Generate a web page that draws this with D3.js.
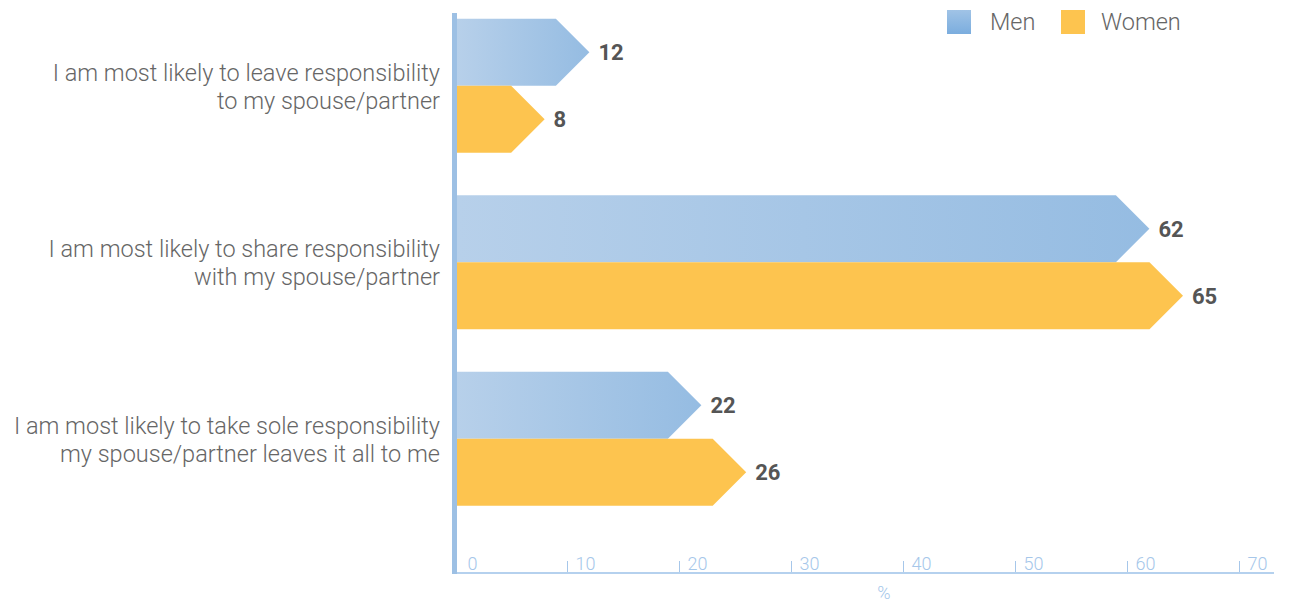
<!DOCTYPE html>
<html><head><meta charset="utf-8">
<script src="https://cdn.jsdelivr.net/npm/d3@7"></script>
<style>
html,body{margin:0;padding:0;background:#fff;}
svg{display:block;font-family:"Roboto","Liberation Sans",sans-serif;}
</style></head>
<body><svg id="c" width="1291" height="603"></svg>
<script>
const categories = [
  ["I am most likely to leave responsibility","to my spouse/partner"],
  ["I am most likely to share responsibility","with my spouse/partner"],
  ["I am most likely to take sole responsibility","my spouse/partner leaves it all to me"]
];
const series = ["Men","Women"];
const menValues = [12, 62, 22];
const womenValues = [8, 65, 26];
const tickValues = [0,10,20,30,40,50,60,70];
const axisTitle = "%";

const svg = d3.select("#c");
const defs = svg.append("defs");
const g1 = defs.append("linearGradient").attr("id","menGrad").attr("x1","0").attr("x2","1").attr("y1","0").attr("y2","0");
g1.append("stop").attr("offset","0").attr("stop-color","#b7d0ea");
g1.append("stop").attr("offset","1").attr("stop-color","#95bce2");
const g2 = defs.append("linearGradient").attr("id","menLeg").attr("x1","0").attr("x2","0").attr("y1","0").attr("y2","1");
g2.append("stop").attr("offset","0").attr("stop-color","#a0c3e6");
g2.append("stop").attr("offset","1").attr("stop-color","#7badde");

const colors = {Men:"url(#menGrad)", Women:"#fdc44f"};

const x = d3.scaleLinear().domain([0,70]).range([455,1239]);
const keys = categories.map((c,i)=>i);
const y = d3.scaleBand().domain(keys).range([-2.5,527]);
const barH = 67;
const y1 = d3.scaleBand().domain(series).range([y.bandwidth()/2 - barH, y.bandwidth()/2 + barH]);

const data = [];
keys.forEach(i=>{
  data.push({cat:i, s:"Men", v:menValues[i]});
  data.push({cat:i, s:"Women", v:womenValues[i]});
});

const x0 = 457;
function arrowPath(d){
  const top = y(d.cat) + y1(d.s);
  const h = y1.bandwidth();
  const tip = x(d.v);
  const corner = tip - h/2;
  return `M${x0},${top}L${corner},${top}L${tip},${top+h/2}L${corner},${top+h}L${x0},${top+h}Z`;
}

svg.append("g").selectAll("path").data(data).join("path")
  .attr("d", arrowPath)
  .attr("fill", d=>colors[d.s]);

svg.append("g").selectAll("text").data(data).join("text")
  .attr("x", d=>x(d.v)+9)
  .attr("y", d=>y(d.cat)+y1(d.s)+y1.bandwidth()/2)
  .attr("dy","0.36em")
  .attr("font-size",22).attr("font-weight","bold").attr("fill","#555555")
  .text(d=>d.v);

// category labels
const lab = svg.append("g").selectAll("text").data(keys).join("text")
  .attr("x",440)
  .attr("y", i=>y(i)+y.bandwidth()/2 - 5)
  .attr("text-anchor","end")
  .attr("font-size",23.5).attr("font-weight",300).attr("fill","#666666");
lab.each(function(i){
  const t = d3.select(this);
  categories[i].forEach((line,k)=>{
    t.append("tspan").attr("x",440).attr("dy", k===0 ? 0 : 28).text(line);
  });
});

// bottom axis
const axis = d3.axisBottom(x).tickValues(tickValues).tickSize(0).tickFormat(d3.format("d"));
const ax = svg.append("g").attr("transform","translate(0,573)").call(axis);
ax.select(".domain").remove();
ax.selectAll(".tick text").attr("text-anchor","start").attr("x", d=> d===0 ? 12 : 8).attr("y",-3).attr("dy",0)
  .attr("font-size",18).attr("font-family","Roboto").attr("font-weight",300).attr("fill","#a6c7ea");
ax.selectAll(".tick").filter(d=>d!==0).append("line").attr("y1",-12).attr("y2",0).attr("stroke","#a6c7ea").attr("stroke-width",1);
svg.append("line").attr("x1",452).attr("x2",1274).attr("y1",573).attr("y2",573).attr("stroke","#b5d1ee").attr("stroke-width",2);
svg.append("rect").attr("x",452).attr("y",13).attr("width",5).attr("height",561).attr("fill","#9dc0e4");
svg.append("text").attr("x",884).attr("y",599).attr("text-anchor","middle").attr("font-size",18).attr("font-weight",300).attr("fill","#a6c7ea").text(axisTitle);

// legend
const legX = [947, 1061];
const legTextX = [990, 1101];
const leg = svg.append("g").selectAll("g").data(series).join("g");
leg.append("rect").attr("x",(d,i)=>legX[i]).attr("y",10).attr("width",24).attr("height",24).attr("fill",d=>d==="Men"?"url(#menLeg)":"#fdc44f");
leg.append("text").attr("x",(d,i)=>legTextX[i]).attr("y",22).attr("dy","0.36em").attr("font-size",23.5).attr("font-weight",300).attr("fill","#666666").text(d=>d);
</script></body></html>
